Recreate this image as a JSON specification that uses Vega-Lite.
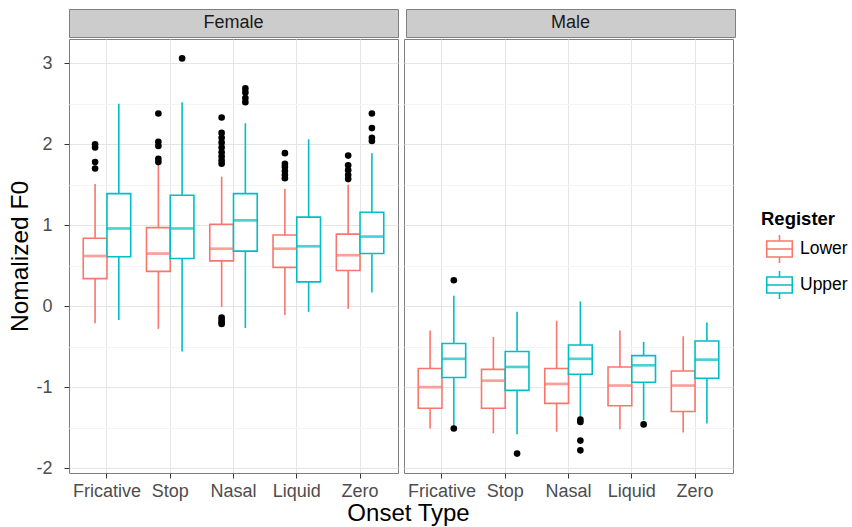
{
  "$schema": "https://vega.github.io/schema/vega-lite/v6.json",
  "padding": {"left": 7, "top": 8, "right": 0, "bottom": 0},
  "background": "white",
  "datasets": {
    "boxes": [
      {"Sex": "Female", "Onset": "Fricative", "Register": "Lower", "lower": -0.21, "q1": 0.34, "median": 0.62, "q3": 0.84, "upper": 1.51},
      {"Sex": "Female", "Onset": "Fricative", "Register": "Upper", "lower": -0.17, "q1": 0.61, "median": 0.96, "q3": 1.39, "upper": 2.50},
      {"Sex": "Female", "Onset": "Stop", "Register": "Lower", "lower": -0.28, "q1": 0.43, "median": 0.65, "q3": 0.97, "upper": 1.74},
      {"Sex": "Female", "Onset": "Stop", "Register": "Upper", "lower": -0.56, "q1": 0.59, "median": 0.96, "q3": 1.37, "upper": 2.52},
      {"Sex": "Female", "Onset": "Nasal", "Register": "Lower", "lower": -0.01, "q1": 0.56, "median": 0.71, "q3": 1.01, "upper": 1.60},
      {"Sex": "Female", "Onset": "Nasal", "Register": "Upper", "lower": -0.27, "q1": 0.68, "median": 1.06, "q3": 1.39, "upper": 2.26},
      {"Sex": "Female", "Onset": "Liquid", "Register": "Lower", "lower": -0.11, "q1": 0.48, "median": 0.71, "q3": 0.88, "upper": 1.45},
      {"Sex": "Female", "Onset": "Liquid", "Register": "Upper", "lower": -0.07, "q1": 0.30, "median": 0.74, "q3": 1.10, "upper": 2.06},
      {"Sex": "Female", "Onset": "Zero", "Register": "Lower", "lower": -0.03, "q1": 0.44, "median": 0.63, "q3": 0.89, "upper": 1.50},
      {"Sex": "Female", "Onset": "Zero", "Register": "Upper", "lower": 0.17, "q1": 0.65, "median": 0.86, "q3": 1.16, "upper": 1.89},
      {"Sex": "Male", "Onset": "Fricative", "Register": "Lower", "lower": -1.51, "q1": -1.26, "median": -1.00, "q3": -0.77, "upper": -0.30},
      {"Sex": "Male", "Onset": "Fricative", "Register": "Upper", "lower": -1.51, "q1": -0.88, "median": -0.65, "q3": -0.46, "upper": 0.13},
      {"Sex": "Male", "Onset": "Stop", "Register": "Lower", "lower": -1.57, "q1": -1.26, "median": -0.92, "q3": -0.78, "upper": -0.38},
      {"Sex": "Male", "Onset": "Stop", "Register": "Upper", "lower": -1.58, "q1": -1.04, "median": -0.75, "q3": -0.56, "upper": -0.07},
      {"Sex": "Male", "Onset": "Nasal", "Register": "Lower", "lower": -1.55, "q1": -1.20, "median": -0.96, "q3": -0.77, "upper": -0.18},
      {"Sex": "Male", "Onset": "Nasal", "Register": "Upper", "lower": -1.38, "q1": -0.84, "median": -0.65, "q3": -0.48, "upper": 0.06},
      {"Sex": "Male", "Onset": "Liquid", "Register": "Lower", "lower": -1.52, "q1": -1.23, "median": -0.98, "q3": -0.75, "upper": -0.30},
      {"Sex": "Male", "Onset": "Liquid", "Register": "Upper", "lower": -1.41, "q1": -0.94, "median": -0.73, "q3": -0.61, "upper": -0.44},
      {"Sex": "Male", "Onset": "Zero", "Register": "Lower", "lower": -1.56, "q1": -1.30, "median": -0.98, "q3": -0.80, "upper": -0.37},
      {"Sex": "Male", "Onset": "Zero", "Register": "Upper", "lower": -1.45, "q1": -0.89, "median": -0.66, "q3": -0.43, "upper": -0.20}
    ],
    "outliers": [
      {"Sex": "Female", "Onset": "Fricative", "Register": "Lower", "value": 2.00},
      {"Sex": "Female", "Onset": "Fricative", "Register": "Lower", "value": 1.96},
      {"Sex": "Female", "Onset": "Fricative", "Register": "Lower", "value": 1.78},
      {"Sex": "Female", "Onset": "Fricative", "Register": "Lower", "value": 1.70},
      {"Sex": "Female", "Onset": "Stop", "Register": "Lower", "value": 2.38},
      {"Sex": "Female", "Onset": "Stop", "Register": "Lower", "value": 2.03},
      {"Sex": "Female", "Onset": "Stop", "Register": "Lower", "value": 1.98},
      {"Sex": "Female", "Onset": "Stop", "Register": "Lower", "value": 1.82},
      {"Sex": "Female", "Onset": "Stop", "Register": "Lower", "value": 1.78},
      {"Sex": "Female", "Onset": "Stop", "Register": "Upper", "value": 3.06},
      {"Sex": "Female", "Onset": "Nasal", "Register": "Lower", "value": 2.33},
      {"Sex": "Female", "Onset": "Nasal", "Register": "Lower", "value": 2.14},
      {"Sex": "Female", "Onset": "Nasal", "Register": "Lower", "value": 2.08},
      {"Sex": "Female", "Onset": "Nasal", "Register": "Lower", "value": 2.02},
      {"Sex": "Female", "Onset": "Nasal", "Register": "Lower", "value": 1.96},
      {"Sex": "Female", "Onset": "Nasal", "Register": "Lower", "value": 1.90},
      {"Sex": "Female", "Onset": "Nasal", "Register": "Lower", "value": 1.85},
      {"Sex": "Female", "Onset": "Nasal", "Register": "Lower", "value": 1.80},
      {"Sex": "Female", "Onset": "Nasal", "Register": "Lower", "value": 1.76},
      {"Sex": "Female", "Onset": "Nasal", "Register": "Lower", "value": -0.14},
      {"Sex": "Female", "Onset": "Nasal", "Register": "Lower", "value": -0.17},
      {"Sex": "Female", "Onset": "Nasal", "Register": "Lower", "value": -0.20},
      {"Sex": "Female", "Onset": "Nasal", "Register": "Lower", "value": -0.22},
      {"Sex": "Female", "Onset": "Nasal", "Register": "Upper", "value": 2.69},
      {"Sex": "Female", "Onset": "Nasal", "Register": "Upper", "value": 2.64},
      {"Sex": "Female", "Onset": "Nasal", "Register": "Upper", "value": 2.57},
      {"Sex": "Female", "Onset": "Nasal", "Register": "Upper", "value": 2.52},
      {"Sex": "Female", "Onset": "Liquid", "Register": "Lower", "value": 1.89},
      {"Sex": "Female", "Onset": "Liquid", "Register": "Lower", "value": 1.76},
      {"Sex": "Female", "Onset": "Liquid", "Register": "Lower", "value": 1.72},
      {"Sex": "Female", "Onset": "Liquid", "Register": "Lower", "value": 1.67},
      {"Sex": "Female", "Onset": "Liquid", "Register": "Lower", "value": 1.62},
      {"Sex": "Female", "Onset": "Liquid", "Register": "Lower", "value": 1.58},
      {"Sex": "Female", "Onset": "Zero", "Register": "Lower", "value": 1.86},
      {"Sex": "Female", "Onset": "Zero", "Register": "Lower", "value": 1.74},
      {"Sex": "Female", "Onset": "Zero", "Register": "Lower", "value": 1.68},
      {"Sex": "Female", "Onset": "Zero", "Register": "Lower", "value": 1.62},
      {"Sex": "Female", "Onset": "Zero", "Register": "Lower", "value": 1.57},
      {"Sex": "Female", "Onset": "Zero", "Register": "Upper", "value": 2.38},
      {"Sex": "Female", "Onset": "Zero", "Register": "Upper", "value": 2.20},
      {"Sex": "Female", "Onset": "Zero", "Register": "Upper", "value": 2.08},
      {"Sex": "Female", "Onset": "Zero", "Register": "Upper", "value": 2.04},
      {"Sex": "Male", "Onset": "Fricative", "Register": "Upper", "value": 0.32},
      {"Sex": "Male", "Onset": "Fricative", "Register": "Upper", "value": -1.51},
      {"Sex": "Male", "Onset": "Stop", "Register": "Upper", "value": -1.82},
      {"Sex": "Male", "Onset": "Nasal", "Register": "Upper", "value": -1.40},
      {"Sex": "Male", "Onset": "Nasal", "Register": "Upper", "value": -1.43},
      {"Sex": "Male", "Onset": "Nasal", "Register": "Upper", "value": -1.66},
      {"Sex": "Male", "Onset": "Nasal", "Register": "Upper", "value": -1.78},
      {"Sex": "Male", "Onset": "Liquid", "Register": "Upper", "value": -1.46}
    ]
  },
  "spacing": 0,
  "resolve": {"legend": {"stroke": "independent"}},
  "vconcat": [
    {
      "spacing": 6,
      "hconcat": [
        {
          "width": 329, "height": 28,
          "data": {"values": [{"Sex": "Female"}]},
          "view": {"fill": "#cccccc", "stroke": "#7f7f7f"},
          "mark": {"type": "text", "fontSize": 18, "color": "#1a1a1a", "baseline": "middle", "align": "center"},
          "encoding": {"text": {"field": "Sex", "type": "nominal"}}
        },
        {
          "width": 329, "height": 28,
          "data": {"values": [{"Sex": "Male"}]},
          "view": {"fill": "#cccccc", "stroke": "#7f7f7f"},
          "mark": {"type": "text", "fontSize": 18, "color": "#1a1a1a", "baseline": "middle", "align": "center"},
          "encoding": {"text": {"field": "Sex", "type": "nominal"}}
        }
      ]
    },
    {
      "spacing": 6,
      "bounds": "flush",
      "resolve": {"legend": {"stroke": "independent"}},
      "hconcat": [
        {
          "width": 329, "height": 434,
          "view": {"fill": "white", "stroke": "#7f7f7f"},
          "encoding": {
            "x": {"field": "Onset", "type": "nominal", "sort": ["Fricative", "Stop", "Nasal", "Liquid", "Zero"], "scale": {"paddingInner": 0, "paddingOuter": 0.1}, "axis": {"title": null, "grid": true, "labelAngle": 0}},
            "xOffset": {"field": "Register", "type": "nominal", "sort": ["Lower", "Upper"], "scale": {"paddingInner": 0, "paddingOuter": 0.3333}}
          },
          "layer": [
            {
              "data": {"name": "boxes"},
              "transform": [{"filter": {"field": "Sex", "equal": "Female"}}],
              "mark": {"type": "rule", "strokeWidth": 1.6},
              "encoding": {
                "y": {"field": "lower", "type": "quantitative", "title": "Nomalized F0", "scale": {"domain": [-2.06, 3.3], "nice": false, "zero": false},
                  "axis": {"values": [-2, -1.5, -1, -0.5, 0, 0.5, 1, 1.5, 2, 2.5, 3], "labelExpr": "datum.value % 1 === 0 ? toString(datum.value) : ''", "tickOpacity": {"condition": {"test": "datum.value % 1 !== 0", "value": 0}, "value": 1}, "gridColor": {"condition": {"test": "datum.value % 1 !== 0", "value": "#f4f4f4"}, "value": "#e5e5e5"}, "labelPadding": 12, "titlePadding": 3}},
                "y2": {"field": "upper"},
                "color": {"field": "Register", "type": "nominal", "scale": {"domain": ["Lower", "Upper"], "range": ["#F8766D", "#00BFC4"]}, "legend": null}
              }
            },
            {
              "data": {"name": "boxes"},
              "transform": [{"filter": {"field": "Sex", "equal": "Female"}}],
              "mark": {"type": "bar", "fill": "white", "strokeWidth": 1.6},
              "encoding": {
                "y": {"field": "q1", "type": "quantitative", "title": "Nomalized F0"},
                "y2": {"field": "q3"},
                "stroke": {"field": "Register", "type": "nominal", "scale": {"domain": ["Lower", "Upper"], "range": ["#F8766D", "#00BFC4"]}, "legend": null}
              }
            },
            {
              "data": {"name": "boxes"},
              "transform": [{"filter": {"field": "Sex", "equal": "Female"}}],
              "mark": {"type": "tick", "orient": "horizontal", "size": 24, "thickness": 2.7},
              "encoding": {
                "y": {"field": "median", "type": "quantitative", "title": "Nomalized F0"},
                "color": {"field": "Register", "type": "nominal", "legend": null}
              }
            },
            {
              "data": {"name": "outliers"},
              "transform": [{"filter": {"field": "Sex", "equal": "Female"}}],
              "mark": {"type": "point", "filled": true, "color": "black", "size": 44, "opacity": 1},
              "encoding": {
                "y": {"field": "value", "type": "quantitative", "title": "Nomalized F0"}
              }
            }
          ]
        },
        {
          "width": 329, "height": 434,
          "view": {"fill": "white", "stroke": "#7f7f7f"},
          "encoding": {
            "x": {"field": "Onset", "type": "nominal", "sort": ["Fricative", "Stop", "Nasal", "Liquid", "Zero"], "scale": {"paddingInner": 0, "paddingOuter": 0.1}, "axis": {"title": "Onset Type", "titleX": 4, "titlePadding": 1, "titleFontSize": 24, "grid": true, "labelAngle": 0}},
            "xOffset": {"field": "Register", "type": "nominal", "sort": ["Lower", "Upper"], "scale": {"paddingInner": 0, "paddingOuter": 0.3333}}
          },
          "layer": [
            {
              "data": {"name": "boxes"},
              "transform": [{"filter": {"field": "Sex", "equal": "Male"}}],
              "mark": {"type": "rule", "strokeWidth": 1.6},
              "encoding": {
                "y": {"field": "lower", "type": "quantitative", "scale": {"domain": [-2.06, 3.3], "nice": false, "zero": false},
                  "axis": {"title": null, "values": [-2, -1.5, -1, -0.5, 0, 0.5, 1, 1.5, 2, 2.5, 3], "labels": false, "ticks": false, "gridColor": {"condition": {"test": "datum.value % 1 !== 0", "value": "#f4f4f4"}, "value": "#e5e5e5"}}},
                "y2": {"field": "upper"},
                "color": {"field": "Register", "type": "nominal", "legend": null}
              }
            },
            {
              "data": {"name": "boxes"},
              "transform": [{"filter": {"field": "Sex", "equal": "Male"}}],
              "mark": {"type": "bar", "fill": "white", "strokeWidth": 1.6},
              "encoding": {
                "y": {"field": "q1", "type": "quantitative"},
                "y2": {"field": "q3"},
                "stroke": {"field": "Register", "type": "nominal", "title": "Register",
                  "legend": {"orient": "none", "legendX": 357, "legendY": 171, "symbolType": "M-0.73,-0.46H0.73V0.46H-0.73Z M-0.73,0H0.73 M0,-0.46V-0.8 M0,0.46V0.8", "symbolSize": 1225, "symbolStrokeWidth": 1.6, "symbolFillColor": "white", "labelFontSize": 17.5, "titleFontSize": 18.5, "titleFontWeight": "bold", "titleColor": "#000000", "labelColor": "#000000", "labelOffset": 2, "rowPadding": 0, "titlePadding": 2}}
              }
            },
            {
              "data": {"name": "boxes"},
              "transform": [{"filter": {"field": "Sex", "equal": "Male"}}],
              "mark": {"type": "tick", "orient": "horizontal", "size": 24, "thickness": 2.7},
              "encoding": {
                "y": {"field": "median", "type": "quantitative"},
                "color": {"field": "Register", "type": "nominal", "legend": null}
              }
            },
            {
              "data": {"name": "outliers"},
              "transform": [{"filter": {"field": "Sex", "equal": "Male"}}],
              "mark": {"type": "point", "filled": true, "color": "black", "size": 44, "opacity": 1},
              "encoding": {
                "y": {"field": "value", "type": "quantitative"}
              }
            }
          ]
        }
      ]
    }
  ],
  "config": {
    "font": "Liberation Sans",
    "view": {"stroke": "#7f7f7f"},
    "axis": {"labelFont": "Liberation Sans", "titleFont": "Liberation Sans", "labelFontSize": 18, "labelColor": "#4d4d4d", "titleFontSize": 24.5, "titleFontWeight": "normal", "titleColor": "#000000", "tickColor": "#333333", "tickSize": 5, "tickWidth": 1, "domain": false, "gridColor": "#e5e5e5", "gridWidth": 1, "labelPadding": 4, "titlePadding": 1},
    "legend": {"labelFont": "Liberation Sans", "titleFont": "Liberation Sans"}
  }
}
